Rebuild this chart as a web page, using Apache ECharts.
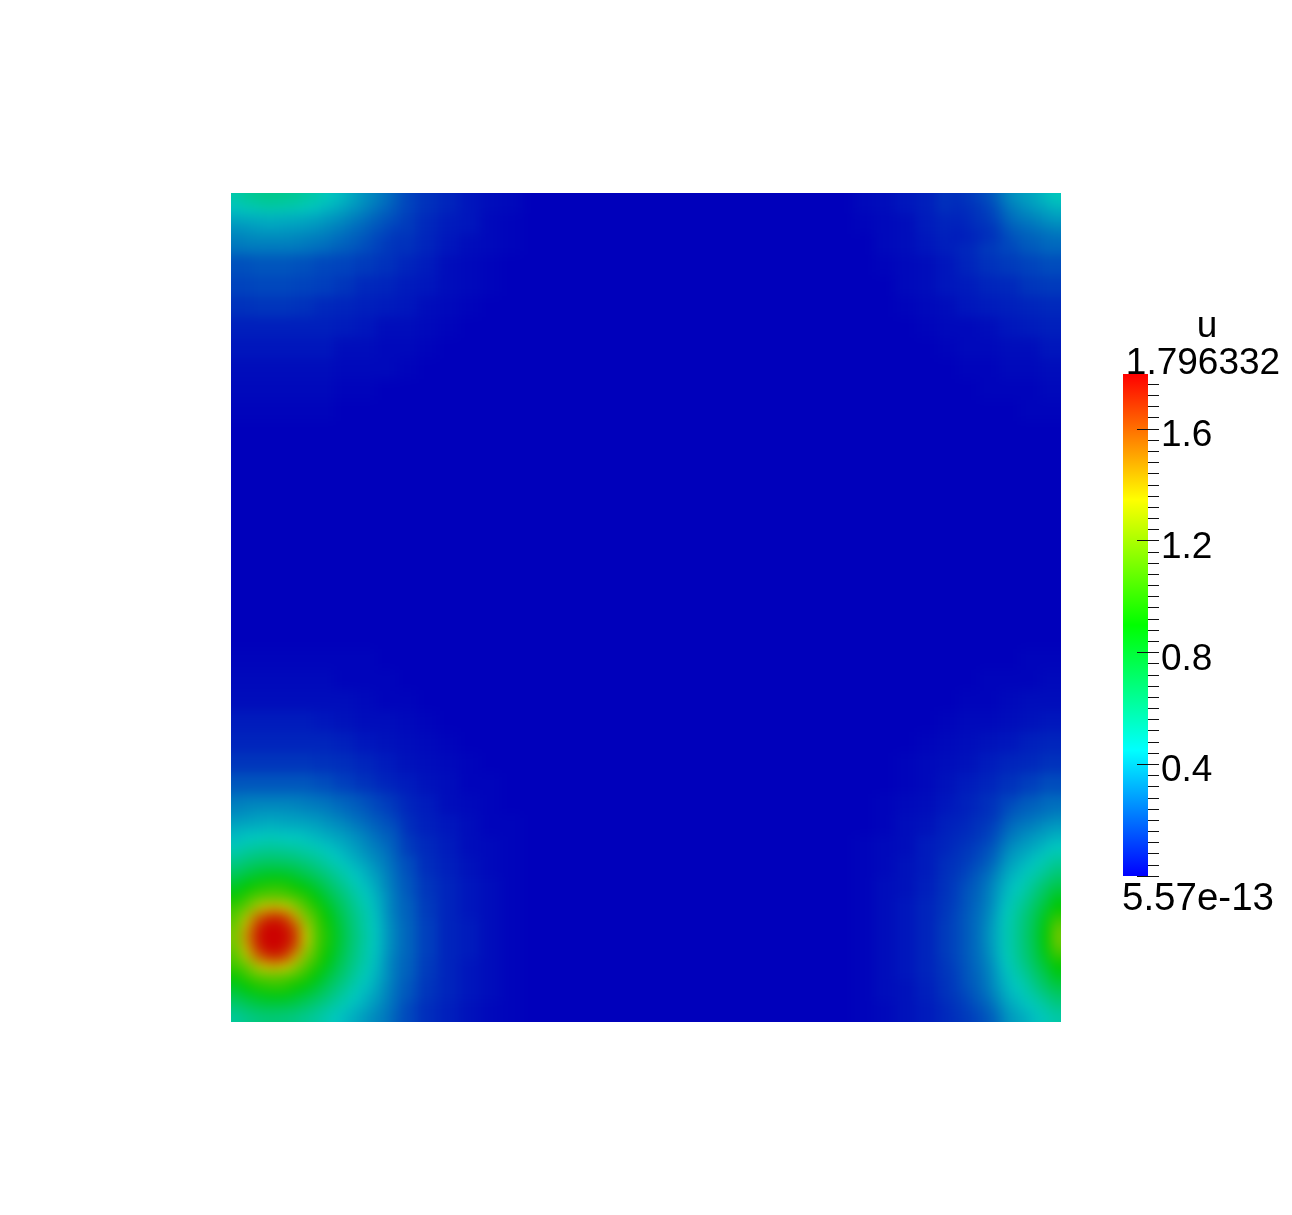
<!DOCTYPE html>
<html>
<head>
<meta charset="utf-8">
<style>html,body{margin:0;padding:0;background:#fff}#c{width:1292px;height:1215px}</style>
<script src="https://cdn.jsdelivr.net/npm/echarts@6/dist/echarts.min.js"></script>
</head>
<body>
<div id="c"></div>
<script>
// field values, in hundredths of u
const fieldName = 'u';
const maxLabel = '1.796332';
const minLabel = '5.57e-13';
const fieldMax = 1.796332;
const tickValues = [0, 0.4, 0.8, 1.2, 1.6];

// coarse layer: 40 x 40 cells
const coarseTopLeft = [
[45,48,48,45,39,34,26,20,15,11,8,5,3,2],
[35,37,37,35,31,26,20,16,13,9,6,5,2,1],
[26,28,28,26,23,19,16,14,11,8,5,3,2,1],
[18,19,19,18,16,15,13,11,8,6,3,2,1,0],
[15,16,16,15,14,12,9,8,6,5,3,2,1,0],
[11,12,12,11,9,8,7,6,5,3,2,1,0,0],
[7,7,7,7,7,6,5,3,3,2,1,0,0,0],
[5,5,5,5,5,3,3,2,2,1,0,0,0,0],
[3,3,3,3,3,2,2,2,1,0,0,0,0,0],
[2,2,2,2,2,1,1,0,0,0,0,0,0,0],
[1,1,1,1,1,0,0,0,0,0,0,0,0,0]];
const coarseBottomLeft = [
[1,1,1,1,1,1,1,0,0,0,0,0,0,0],
[2,2,2,2,2,1,1,1,0,0,0,0,0,0],
[3,3,3,3,3,3,2,1,1,0,0,0,0,0],
[6,6,6,6,5,4,3,3,2,1,0,0,0,0],
[8,8,8,8,8,7,5,4,3,2,1,0,0,0],
[12,12,12,12,11,10,8,6,4,3,2,1,0,0],
[19,19,19,19,17,14,11,8,6,4,3,1,1,0],
[27,30,30,28,25,20,15,11,8,6,3,2,1,0],
[36,38,38,37,32,27,21,15,10,7,5,3,1,1],
[47,51,51,47,41,34,27,20,13,9,6,3,2,1],
[62,71,71,64,52,42,33,24,17,10,7,4,2,1],
[82,97,97,85,66,50,39,29,19,12,8,5,3,1],
[103,135,135,108,80,57,41,31,21,13,8,5,3,1],
[120,165,172,130,88,61,43,32,22,14,8,6,3,1],
[118,163,168,128,88,61,43,32,22,14,8,6,3,1],
[102,128,130,106,77,57,41,31,21,13,8,5,3,1],
[80,94,94,81,64,49,37,28,19,12,8,5,3,1],
[59,67,67,61,50,40,32,23,16,10,7,4,2,1]];
const coarseTopRight = [
[2,3,5,7,11,15,20,26,33,39],
[1,2,3,6,8,12,16,20,26,30],
[0,2,3,5,7,9,13,16,20,23],
[0,1,2,3,5,8,11,13,15,17],
[0,0,2,3,5,6,8,9,12,13],
[0,0,1,2,3,5,6,7,8,9],
[0,0,0,1,2,2,3,5,6,7],
[0,0,0,0,1,2,2,3,3,5],
[0,0,0,0,0,1,1,2,2,3],
[0,0,0,0,0,0,1,1,1,2],
[0,0,0,0,0,0,0,0,1,1]];
const coarseBottomRight = [
[0,0,0,0,0,0,0,0,1,1],
[0,0,0,0,0,0,1,1,1,2],
[0,0,0,0,0,1,1,2,3,3],
[0,0,0,0,1,2,2,3,4,5],
[0,0,0,1,2,3,4,5,7,8],
[0,0,1,2,3,4,6,8,9,11],
[0,0,1,2,4,6,8,11,14,17],
[0,1,2,3,5,8,11,15,20,24],
[0,1,3,4,7,10,14,20,27,32],
[1,2,3,6,8,12,19,26,33,40],
[1,2,4,6,10,15,23,32,40,50],
[1,3,4,7,11,18,27,37,48,64],
[1,3,5,8,12,20,30,40,54,76],
[1,3,5,8,13,21,31,42,57,84],
[1,3,5,8,13,21,31,42,57,83],
[1,3,5,8,12,20,29,39,53,75],
[1,3,4,7,11,18,27,36,47,62],
[1,2,4,6,9,14,23,31,39,49]];

// fine layer: 83 x 83 cells, only around the peaks
const fineBottomLeft = [
[26,27,27,27,27,27,27,26,25,24,22,21,19,17,15,13,11],
[29,30,31,31,31,31,30,29,28,27,25,23,21,19,16,14,12],
[33,34,35,36,36,35,35,34,33,31,29,27,24,22,19,17,14],
[38,39,39,40,40,39,39,38,37,35,33,31,28,25,22,19,17],
[42,44,45,46,46,45,45,43,41,39,37,35,32,29,25,22,19],
[47,50,52,53,53,52,51,49,47,44,41,38,35,31,28,24,20],
[54,58,60,62,62,61,59,56,53,49,45,41,38,34,30,27,21],
[62,67,70,72,72,71,69,65,60,55,50,46,41,38,33,28,23],
[71,77,81,84,85,84,79,74,69,63,56,50,45,40,36,30,24],
[81,89,95,98,100,98,92,86,78,70,62,55,48,43,38,31,25],
[92,101,108,111,112,109,105,98,88,77,68,60,52,46,40,33,26],
[103,111,125,137,140,134,120,108,97,85,73,64,55,48,42,33,26],
[108,128,152,165,170,163,142,117,105,91,78,67,58,50,43,34,27],
[114,140,166,178,180,175,160,128,108,95,81,69,59,50,44,35,28],
[117,146,170,180,180,178,165,134,109,97,82,70,60,52,44,35,28],
[114,140,166,178,180,175,160,128,108,95,81,69,59,50,44,35,28],
[108,128,152,165,170,163,142,117,105,91,78,67,58,50,43,34,27],
[103,111,125,137,140,134,120,108,97,85,73,64,55,48,42,33,26],
[92,101,108,111,112,109,105,98,88,77,68,60,52,46,40,33,26],
[81,89,95,98,100,98,92,86,78,70,62,55,48,43,38,31,25],
[71,77,81,84,85,84,79,74,69,63,56,50,45,40,36,30,24],
[62,67,70,72,72,71,69,65,60,55,50,46,41,38,33,28,23],
[54,58,60,62,62,61,59,56,53,49,45,41,38,34,30,27,21]];
const fineBottomRight = [
[6,7,8,10,12,16,19,21,22,24,25],
[7,8,10,11,13,19,22,24,26,28,30],
[8,9,11,13,16,22,26,28,30,33,35],
[9,10,12,14,18,25,29,32,35,37,40],
[10,12,14,17,21,29,33,36,38,42,45],
[11,13,15,19,23,32,36,39,43,47,51],
[12,14,18,21,27,35,39,43,47,52,58],
[13,16,20,24,30,38,42,47,52,58,65],
[14,18,21,26,33,40,45,50,58,66,73],
[14,19,22,27,34,42,48,54,63,71,82],
[15,19,23,28,35,44,51,58,68,77,89],
[16,20,24,29,37,46,53,62,71,84,100],
[16,20,24,30,38,47,54,63,73,88,110],
[16,20,24,31,38,47,54,64,74,89,114],
[16,20,24,30,38,47,54,63,73,88,110],
[16,20,24,29,37,46,53,62,71,84,100],
[15,19,23,28,35,44,51,58,68,77,89],
[14,19,22,27,34,42,48,54,63,71,82],
[14,18,21,26,33,40,45,50,58,66,73],
[13,16,20,24,30,38,42,47,52,58,65],
[12,14,18,21,27,35,39,43,47,52,58],
[11,13,15,19,23,32,36,39,43,47,51]];
const fineTopLeft = [
[50,54,56,57,57,56,55,52,50,46,43,40,36,32,29,25,21],
[44,47,48,50,50,49,48,46,44,41,39,36,33,30,26,23,19],
[38,39,39,40,40,39,39,38,37,35,33,31,28,25,22,19,17],
[33,34,35,36,36,35,35,34,33,31,29,27,24,22,19,17,14],
[29,30,31,31,31,31,30,29,28,27,25,23,21,19,16,14,12],
[26,27,27,27,27,27,27,26,25,24,22,21,19,17,15,13,11]];
const fineTopRight = [
[10,12,14,17,21,29,33,36,38,42,46],
[9,10,12,14,18,25,29,32,35,37,40],
[8,9,11,13,16,22,26,28,30,33,35],
[7,8,10,11,13,19,22,24,26,28,30],
[6,7,8,10,12,16,19,21,22,24,25]];

// Cells touching the plot edge are repeated into a margin just outside the
// clip, so that the layer's softening does not fade towards white at the edge.
function place(rows, colStart, rowStart, n, margin, out) {
  const span = k => {
    const a = [];
    const lo = k === 0 ? -margin : k;
    const hi = k === n - 1 ? n - 1 + margin : k;
    for (let t = lo; t <= hi; t++) a.push(t + margin);
    return a;
  };
  rows.forEach((r, j) => r.forEach((v, i) => {
    span(colStart + i).forEach(c => span(rowStart + j).forEach(w => out.push([c, w, v / 100])));
  }));
  return out;
}
const coarseData = [];
place(coarseTopLeft, 0, 0, 40, 1, coarseData);
place(coarseBottomLeft, 0, 22, 40, 1, coarseData);
place(coarseTopRight, 30, 0, 40, 1, coarseData);
place(coarseBottomRight, 30, 22, 40, 1, coarseData);
const fineData = [];
place(fineBottomLeft, 0, 60, 83, 2, fineData);
place(fineBottomRight, 72, 61, 83, 2, fineData);
place(fineTopLeft, 0, 0, 83, 2, fineData);
place(fineTopRight, 72, 0, 83, 2, fineData);

const range = n => Array.from({length: n}, (_, i) => i);
const hiddenCat = (gridIndex, n, inverse) => ({
  type: 'category', gridIndex, data: range(n), inverse: !!inverse, show: false,
  axisLine: {show: false}, axisTick: {show: false}, splitLine: {show: false}, splitArea: {show: false}
});
const font = '"Liberation Sans", Arial, sans-serif';

const chart = echarts.init(document.getElementById('c'), null, {renderer: 'canvas'});
chart.setOption({
  animation: false,
  tooltip: {show: false},
  grid: [
    {left: 231 - 20.75, top: 193 - 20.725, width: 830 + 41.5, height: 829 + 41.45, show: true, backgroundColor: '#0000bb', borderWidth: 0},
    {left: 231 - 20, top: 193 - 19.976, width: 870, height: 868.95},
    {left: 1159, top: 374, width: 1, height: 502},
    {left: 1123, top: 374, width: 25, height: 502}
  ],
  xAxis: [
    hiddenCat(0, 42),
    hiddenCat(1, 87),
    {type: 'value', gridIndex: 2, show: false},
    {type: 'category', gridIndex: 3, data: [fieldName], show: false}
  ],
  yAxis: [
    hiddenCat(0, 42, true),
    hiddenCat(1, 87, true),
    {
      type: 'value', gridIndex: 2, min: 0, max: fieldMax, interval: 0.4, position: 'left', zlevel: 1, z: 10,
      axisLine: {show: false},
      splitLine: {show: false},
      axisTick: {show: true, length: 22, lineStyle: {color: '#111', width: 1}, customValues: tickValues},
      minorTick: {show: true, splitNumber: 10, length: 11, lineStyle: {color: '#111', width: 1}},
      axisLabel: {
        show: true, inside: true, margin: 2, color: '#000', fontFamily: font, fontSize: 37,
        verticalAlign: 'top', lineHeight: 14, align: 'left',
        customValues: tickValues.slice(1),
        formatter: v => v.toFixed(1)
      }
    },
    {type: 'value', gridIndex: 3, min: 0, max: fieldMax, show: false}
  ],
  visualMap: [
    {
      type: 'continuous', show: false, min: 0, max: fieldMax, seriesIndex: [0, 1],
      inRange: {color: ['#0000bb', '#00c8c0', '#00c800', '#c8c800', '#cc0000']}
    }
  ],
  series: [
    {type: 'heatmap', xAxisIndex: 0, yAxisIndex: 0, data: coarseData, z: 2, silent: true, emphasis: {disabled: true}, progressive: 0},
    {type: 'heatmap', xAxisIndex: 1, yAxisIndex: 1, data: fineData, z: 3, silent: true, emphasis: {disabled: true}, progressive: 0},
    {type: 'line', xAxisIndex: 2, yAxisIndex: 2, data: [], silent: true, zlevel: 1},
    {
      type: 'bar', xAxisIndex: 3, yAxisIndex: 3, data: [fieldMax], barWidth: '100%', silent: true, zlevel: 1,
      itemStyle: {
        color: new echarts.graphic.LinearGradient(0, 0, 0, 1, [
          {offset: 0, color: '#ff0000'},
          {offset: 0.25, color: '#ffff00'},
          {offset: 0.5, color: '#00ff00'},
          {offset: 0.75, color: '#00ffff'},
          {offset: 1, color: '#0000ff'}
        ])
      }
    }
  ],
  graphic: [
    {type: 'text', zlevel: 1, z: 20, style: {text: fieldName, x: 1207, y: 345, textAlign: 'center', textVerticalAlign: 'bottom', font: '37px ' + font, fill: '#000'}},
    {type: 'text', zlevel: 1, z: 20, style: {text: maxLabel, x: 1203, y: 382, textAlign: 'center', textVerticalAlign: 'bottom', font: '37px ' + font, fill: '#000'}},
    {type: 'text', zlevel: 1, z: 20, style: {text: minLabel, x: 1198, y: 919, textAlign: 'center', textVerticalAlign: 'bottom', font: '38.5px ' + font, fill: '#000'}}
  ]
});

// The reference field is smooth: soften the field layer, then trim it to the plot.
function softenField() {
  const dom = chart.getZr().painter.getLayer(0).dom;
  dom.style.filter = 'blur(6px)';
  dom.style.clipPath = 'inset(193px 231px 193px 231px)';
}
softenField();
chart.on('finished', softenField);
</script>
</body>
</html>
